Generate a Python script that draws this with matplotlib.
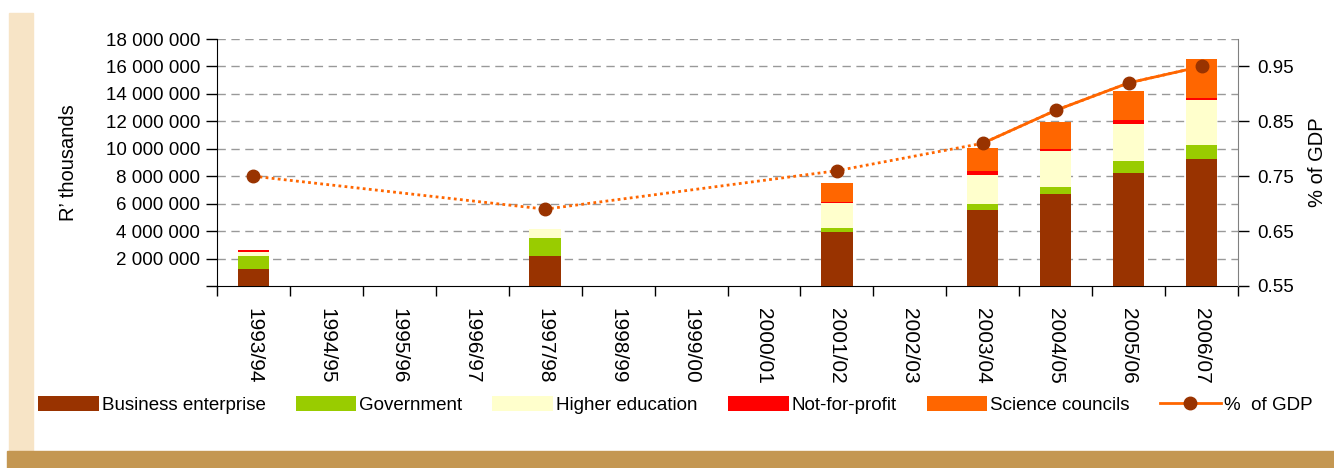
import matplotlib.pyplot as plt
import numpy as np
from matplotlib.lines import Line2D
from matplotlib.patches import Patch, Rectangle

plt.rcParams['font.family'] = ['Liberation Sans Narrow', 'Liberation Sans', 'DejaVu Sans']
FS = 13.5

# R&D expenditure by sector, R' thousands (None = no survey that year)
years = ['1993/94', '1994/95', '1995/96', '1996/97', '1997/98', '1998/99', '1999/00',
         '2000/01', '2001/02', '2002/03', '2003/04', '2004/05', '2005/06', '2006/07']
business = [1240000, None, None, None, 2190000, None, None, None, 3960000, None,
            5540000, 6710000, 8240000, 9260000]
government = [950000, None, None, None, 1310000, None, None, None, 290000, None,
              440000, 500000, 870000, 1020000]
higher_ed = [290000, None, None, None, 630000, None, None, None, 1800000, None,
             2110000, 2630000, 2700000, 3280000]
not_for_profit = [140000, None, None, None, 0, None, None, None, 70000, None,
                  320000, 140000, 290000, 140000]
science_councils = [0, None, None, None, 0, None, None, None, 1390000, None,
                    1650000, 1970000, 2110000, 2840000]
pct_gdp = [0.75, None, None, None, 0.69, None, None, None, 0.76, None,
           0.81, 0.87, 0.92, 0.95]

sectors = [
    ('Business enterprise', business, '#993300'),
    ('Government', government, '#99CC00'),
    ('Higher education', higher_ed, '#FFFFCC'),
    ('Not-for-profit', not_for_profit, '#FF0000'),
    ('Science councils', science_councils, '#FF6600'),
]

x = np.arange(len(years))
has_data = np.array([v is not None for v in business])
xd = x[has_data]

fig = plt.figure(figsize=(13.34, 4.68), dpi=100)

# Decorative page elements
fig.patches.append(Rectangle((9 / 1334, 17 / 468), 24 / 1334, 438 / 468,
                             transform=fig.transFigure, color='#F7E4C6', zorder=0))
fig.patches.append(Rectangle((7 / 1334, 0), 1327 / 1334, 17 / 468,
                             transform=fig.transFigure, color='#C49752', zorder=0))

ax = fig.add_axes([217 / 1334, 1 - 286 / 468, 1021 / 1334, 247 / 468])
ax.set_facecolor('none')

bottom = np.zeros(len(xd))
for name, vals, col in sectors:
    v = np.array([vals[i] for i in xd], dtype=float)
    ax.bar(xd, v, bottom=bottom, width=0.43, color=col, label=name, zorder=3)
    bottom += v

ax.set_xlim(-0.5, len(years) - 0.5)
ax.set_ylim(0, 18000000)
ax.set_yticks(np.arange(2000000, 18000001, 2000000))
ax.set_yticks([0], minor=True)
ax.yaxis.set_major_formatter(plt.FuncFormatter(lambda v, p: f'{int(v):,}'.replace(',', ' ')))
ax.tick_params(axis='y', which='both', direction='out', length=8, width=1, labelsize=FS, pad=4)
ax.grid(axis='y', color='#999999', linestyle=(0, (6, 4)), linewidth=1, zorder=1)

ax.set_xticks(x)
ax.set_xticklabels(years, rotation=270, fontsize=15)
ax.set_xticks(np.arange(-0.5, len(years), 1), minor=True)
ax.tick_params(axis='x', which='major', length=0, pad=16)
ax.tick_params(axis='x', which='minor', length=7, width=1, direction='out')

ax.spines['top'].set_visible(False)
ax.spines['right'].set_visible(False)
ax.set_ylabel('R\u2019 thousands', fontsize=FS + 1, labelpad=20)

# % of GDP on the secondary axis
ax2 = ax.twinx()
ax2.set_ylim(0.55, 1.0)
ax2.set_yticks([0.55, 0.65, 0.75, 0.85, 0.95])
ax2.tick_params(axis='y', direction='out', length=8, width=1, labelsize=FS, pad=6)
ax2.spines['top'].set_visible(False)
ax2.spines['left'].set_visible(False)
ax2.spines['bottom'].set_visible(False)
ax2.spines['right'].set_color('#808080')
ax2.set_ylabel('% of GDP', fontsize=FS + 1, labelpad=10)

gdp = np.array([pct_gdp[i] for i in xd], dtype=float)
ax2.plot(xd, gdp, color='#FF6600', linestyle=(0, (1, 1.2)), linewidth=2, zorder=4)
solid = xd >= 10
ax2.plot(xd[solid], gdp[solid], color='#FF6600', linewidth=2, zorder=4)
ax2.plot(xd, gdp, linestyle='none', marker='o', markersize=9,
         color='#993300', zorder=5)

handles = [Patch(facecolor=c, label=n) for n, _, c in sectors]
handles.append(Line2D([], [], color='#FF6600', linewidth=2, marker='o',
                      markersize=9, markerfacecolor='#993300',
                      markeredgecolor='#993300', label='%  of GDP'))
fig.legend(handles=handles, loc='center', bbox_to_anchor=(0.506, 1 - 405 / 468),
           ncol=6, frameon=False, fontsize=FS, handlelength=3.25, handleheight=0.9,
           handletextpad=0.15, columnspacing=1.6)

plt.savefig('out.png', dpi=100)
